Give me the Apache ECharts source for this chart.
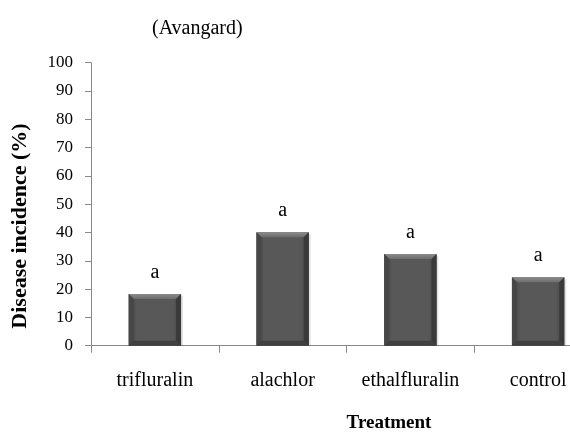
<!DOCTYPE html>
<html>
<head>
<meta charset="utf-8">
<script src="https://cdn.jsdelivr.net/npm/echarts@6/dist/echarts.min.js"></script>
<style>
  html, body { margin: 0; padding: 0; background: #fff; }
  #chart { width: 570px; height: 432px; }
</style>
</head>
<body>
<div id="chart"></div>
<script>
// Disease incidence by herbicide treatment, cultivar Avangard
const categories = ['trifluralin', 'alachlor', 'ethalfluralin', 'control'];
const incidence = [18.3, 40.1, 32.4, 24.2];
const letters = ['a', 'a', 'a', 'a'];
const yTicks = { min: 0, max: 100, step: 10 };

const SERIF = '"Liberation Serif", "Times New Roman", serif';

// Bevelled column: face, four edge facets and the significance letter above it
function renderBar(params, api) {
  const idx = api.value(0);
  const v = api.value(1);
  const top = api.coord([idx, v]);
  const base = api.coord([idx, 0]);
  const band = api.size([1, 0])[0];
  const w = band * 0.41;
  const x0 = top[0] - w / 2, x1 = top[0] + w / 2;
  const y0 = top[1], y1 = base[1];
  const b = 5;
  return {
    type: 'group',
    children: [
      {
        type: 'rect',
        shape: { x: x0 + 2, y: y0 + 2, width: w, height: y1 - y0 - 2 },
        style: { fill: 'rgba(0,0,0,0.10)' }
      },
      {
        type: 'rect',
        shape: { x: x0, y: y0, width: w, height: y1 - y0 },
        style: {
          fill: new echarts.graphic.LinearGradient(0, 0, 1, 0, [
            { offset: 0, color: '#3e3e3e' },
            { offset: 0.15, color: '#585858' },
            { offset: 0.85, color: '#585858' },
            { offset: 1, color: '#3c3c3c' }
          ])
        }
      },
      {
        type: 'polygon',
        shape: { points: [[x0, y0], [x1, y0], [x1 - b, y0 + b], [x0 + b, y0 + b]] },
        style: {
          fill: new echarts.graphic.LinearGradient(0, 0, 0, 1, [
            { offset: 0, color: '#8c8c8c' },
            { offset: 1, color: '#6c6c6c' }
          ])
        }
      },
      {
        type: 'polygon',
        shape: { points: [[x0, y0], [x0 + b, y0 + b], [x0 + b, y1 - b], [x0, y1]] },
        style: { fill: '#474747' }
      },
      {
        type: 'polygon',
        shape: { points: [[x1, y0], [x1 - b, y0 + b], [x1 - b, y1 - b], [x1, y1]] },
        style: { fill: '#3a3a3a' }
      },
      {
        type: 'polygon',
        shape: { points: [[x0 + b, y1 - b], [x1 - b, y1 - b], [x1, y1], [x0, y1]] },
        style: { fill: '#404040' }
      },
      {
        type: 'text',
        style: {
          text: letters[idx],
          x: top[0],
          y: y0 - 21,
          align: 'center',
          verticalAlign: 'middle',
          fill: '#000',
          font: '20px ' + SERIF
        }
      }
    ]
  };
}

const chart = echarts.init(document.getElementById('chart'), null, { renderer: 'canvas' });

chart.setOption({
  backgroundColor: '#ffffff',
  animation: false,
  title: {
    text: '(Avangard)',
    left: 152,
    top: 19,
    padding: 0,
    textStyle: { fontFamily: SERIF, fontSize: 20, fontWeight: 'normal', color: '#000' }
  },
  // plot area runs past the right edge of the canvas
  grid: {
    left: 91,
    right: -32,
    top: 62.7,
    bottom: 86.3,
    containLabel: false,
    outerBoundsMode: 'none'
  },
  xAxis: {
    type: 'category',
    data: categories,
    axisLine: { show: true, lineStyle: { color: '#888888', width: 1 } },
    axisTick: { show: true, length: 7, lineStyle: { color: '#888888' } },
    axisLabel: {
      margin: 25,
      fontFamily: SERIF,
      fontSize: 20,
      color: '#000',
      interval: 0
    },
    splitLine: { show: false }
  },
  yAxis: {
    type: 'value',
    min: yTicks.min,
    max: yTicks.max,
    interval: yTicks.step,
    axisLine: { show: true, lineStyle: { color: '#888888', width: 1 } },
    axisTick: { show: true, length: 6, lineStyle: { color: '#888888' } },
    axisLabel: { margin: 18, fontFamily: SERIF, fontSize: 17, color: '#000' },
    splitLine: { show: false }
  },
  graphic: [
    {
      type: 'text',
      x: 20,
      y: 226,
      rotation: Math.PI / 2,
      style: {
        text: 'Disease incidence (%)',
        align: 'center',
        verticalAlign: 'middle',
        font: 'bold 22px ' + SERIF,
        fill: '#000'
      }
    },
    {
      type: 'text',
      x: 389,
      y: 423,
      style: {
        text: 'Treatment',
        align: 'center',
        verticalAlign: 'middle',
        font: 'bold 19px ' + SERIF,
        fill: '#000'
      }
    }
  ],
  series: [
    {
      type: 'custom',
      renderItem: renderBar,
      encode: { x: 0, y: 1 },
      data: categories.map((c, i) => [i, incidence[i]])
    }
  ]
});
</script>
</body>
</html>
